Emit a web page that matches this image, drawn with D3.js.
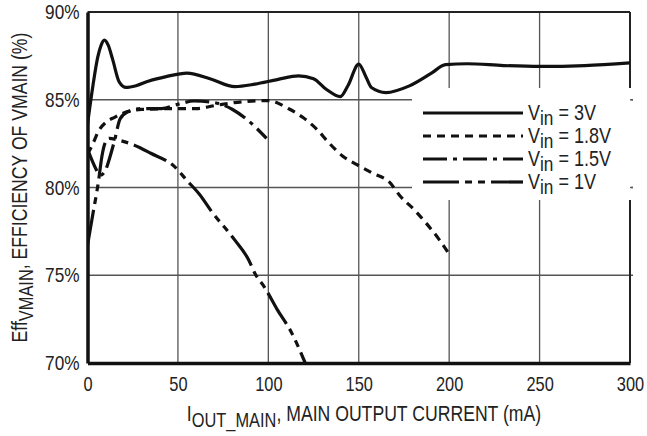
<!DOCTYPE html>
<html>
<head>
<meta charset="utf-8">
<script src="https://d3js.org/d3.v7.min.js"></script>
<style>
  body { margin: 0; background: #fff; }
  svg { display: block; }
  text { font-family: "Liberation Sans", Arial, sans-serif; fill: #222; }
</style>
</head>
<body>
<div id="chart"></div>
<script>
// Values (mA, %)
const xTicks = [0, 50, 100, 150, 200, 250, 300];
const yTicks = [70, 75, 80, 85, 90];

const v3I  = [0, 3, 5.6, 7.5, 9.3, 11.5, 13.9, 17.6, 21.3, 26.9, 34, 43.5, 55, 68.5, 81.5, 92.6, 105, 116.7, 125, 132, 139.8, 144, 150, 154, 157, 165, 178, 190, 198, 210, 230, 250, 275, 300];
const v3E  = [83.6, 85.8, 87.4, 88.1, 88.4, 88.1, 87.3, 86.0, 85.7, 85.8, 86.07, 86.32, 86.52, 86.17, 85.75, 85.89, 86.15, 86.36, 86.2, 85.6, 85.18, 85.8, 87.03, 86.3, 85.7, 85.41, 85.79, 86.5, 87.0, 87.05, 86.95, 86.9, 86.95, 87.1];

const v18I = [0, 3, 6, 10, 15, 20, 30, 50, 60, 72, 87, 100, 111, 119, 127, 133, 141, 149, 158, 167, 173, 181, 187, 194, 200];
const v18E = [81.9, 82.5, 83.2, 83.7, 84.0, 84.25, 84.45, 84.5, 84.5, 84.7, 84.9, 84.95, 84.5, 84.0, 83.3, 82.6, 81.8, 81.3, 80.8, 80.3, 79.5, 78.7, 78.0, 77.1, 76.2];

const v15I = [0, 4, 7, 10, 12, 15, 18, 22, 30, 41, 50, 59, 70, 80, 89, 99];
const v15E = [82.2, 81.2, 80.7, 81.0, 81.6, 82.7, 83.9, 84.3, 84.5, 84.5, 84.74, 84.93, 84.84, 84.46, 83.8, 82.8];

const v1I  = [0, 3, 6, 8, 10, 12, 17, 25, 35, 48, 55, 62, 68.5, 81.5, 89, 92.6, 98, 104.6, 113, 120.4];
const v1E  = [76.7, 78.5, 80.3, 81.8, 82.6, 82.8, 82.7, 82.45, 81.95, 81.2, 80.4, 79.6, 78.65, 77.0, 75.9, 75.1, 74.3, 73.1, 71.7, 70.0];

const seriesNames = ["3V", "1.8V", "1.5V", "1V"];
const seriesDash  = [null, "8,6", "24,6,4,6", "36,6,7,6,7,6"];
const seriesI = [v3I, v18I, v15I, v1I];
const seriesE = [v3E, v18E, v15E, v1E];

const width = 647, height = 436;
const plotL = 87.5, plotR = 630, plotT = 12, plotB = 363;
const narrow = 0.82;   // no narrow font installed, squeeze the glyphs instead

const svg = d3.select("#chart").append("svg")
  .attr("width", width)
  .attr("height", height);

const x = d3.scaleLinear().domain([0, 300]).range([plotL, plotR]);
const y = d3.scaleLinear().domain([70, 90]).range([plotB, plotT]);

// grid
svg.append("g").selectAll("line")
  .data(xTicks.slice(1, -1))
  .enter().append("line")
  .attr("x1", d => x(d)).attr("x2", d => x(d))
  .attr("y1", plotT).attr("y2", plotB)
  .attr("stroke", "#555").attr("stroke-width", 1.3);

svg.append("g").selectAll("line")
  .data(yTicks.slice(1, -1))
  .enter().append("line")
  .attr("x1", plotL).attr("x2", plotR + 3)
  .attr("y1", d => y(d)).attr("y2", d => y(d))
  .attr("stroke", "#555").attr("stroke-width", 1.3);

// frame: top and right thinner, left and bottom heavy
svg.append("line").attr("x1", plotL).attr("x2", plotR).attr("y1", plotT).attr("y2", plotT)
  .attr("stroke", "#222").attr("stroke-width", 2);
svg.append("line").attr("x1", plotR).attr("x2", plotR).attr("y1", plotT).attr("y2", plotB)
  .attr("stroke", "#222").attr("stroke-width", 2);

// curves, clipped to the plot
svg.append("clipPath").attr("id", "plotclip")
  .append("rect").attr("x", plotL).attr("y", plotT).attr("width", plotR - plotL).attr("height", plotB - plotT);

const line = d3.line()
  .x(d => x(d[0]))
  .y(d => y(d[1]))
  .curve(d3.curveMonotoneX);

const curves = svg.append("g").attr("clip-path", "url(#plotclip)");
seriesNames.forEach((name, i) => {
  const pts = seriesI[i].map((v, j) => [v, seriesE[i][j]]);
  curves.append("path")
    .datum(pts)
    .attr("d", line)
    .attr("fill", "none")
    .attr("stroke", "#111")
    .attr("stroke-width", 3.2)
    .attr("stroke-linecap", "butt")
    .attr("stroke-dasharray", seriesDash[i]);
});

// legend box
svg.append("rect")
  .attr("x", 412).attr("y", 88)
  .attr("width", 219).attr("height", 112)
  .attr("fill", "#fff");
svg.append("line").attr("x1", plotR).attr("x2", plotR + 3).attr("y1", y(85)).attr("y2", y(85))
  .attr("stroke", "#555").attr("stroke-width", 1.3);
svg.append("line").attr("x1", plotR).attr("x2", plotR + 3).attr("y1", y(80)).attr("y2", y(80))
  .attr("stroke", "#555").attr("stroke-width", 1.3);

const legend = svg.append("g");
seriesNames.forEach((name, i) => {
  const ly = 113 + i * 23;
  legend.append("line")
    .attr("x1", 423).attr("x2", 523)
    .attr("y1", ly).attr("y2", ly)
    .attr("stroke", "#111").attr("stroke-width", 3.2)
    .attr("stroke-dasharray", seriesDash[i]);
  const t = legend.append("text")
    .attr("transform", `translate(528,${ly + 7}) scale(${narrow},1)`)
    .attr("font-size", 22);
  t.append("tspan").text("V");
  t.append("tspan").attr("dy", 5).attr("font-size", 21).text("in");
  t.append("tspan").attr("dy", -5).text(" = " + name);
});

// left and bottom axes (heavy lines, labels only)
const xAxis = d3.axisBottom(x).tickValues(xTicks).tickSize(0).tickPadding(14).tickFormat(d3.format("d"));
const gx = svg.append("g").attr("transform", `translate(0,${plotB})`).call(xAxis);
gx.select(".domain").attr("stroke", "#111").attr("stroke-width", 3.5);
gx.selectAll("text").attr("font-size", 20).attr("fill", "#222")
  .attr("transform", `scale(${narrow},1)`)
  .style("font-family", "'Liberation Sans', Arial, sans-serif");

const yAxis = d3.axisLeft(y).tickValues(yTicks).tickSize(0).tickPadding(8).tickFormat(d => d + "%");
const gy = svg.append("g").attr("transform", `translate(${plotL},0)`).call(yAxis);
gy.select(".domain").attr("stroke", "#111").attr("stroke-width", 3.5);
gy.selectAll("text").attr("font-size", 21).attr("fill", "#222")
  .attr("x", -8 / narrow)
  .attr("transform", `scale(${narrow},1)`)
  .style("font-family", "'Liberation Sans', Arial, sans-serif");

// axis titles
const xt = svg.append("text")
  .attr("transform", `translate(364,421) scale(${narrow},1)`)
  .attr("text-anchor", "middle")
  .attr("font-size", 21.5);
xt.append("tspan").text("I");
xt.append("tspan").attr("dy", 6).attr("font-size", 20).text("OUT_MAIN");
xt.append("tspan").attr("dy", -6).text(", MAIN OUTPUT CURRENT (mA)");

const yt = svg.append("text")
  .attr("transform", `translate(27,${(plotT + plotB) / 2}) rotate(-90) scale(${narrow},1)`)
  .attr("text-anchor", "middle")
  .attr("font-size", 21.5);
yt.append("tspan").text("Eff");
yt.append("tspan").attr("dy", 6).attr("font-size", 20).text("VMAIN");
yt.append("tspan").attr("dy", -6).text(", EFFICIENCY OF VMAIN (%)");
</script>
</body>
</html>
